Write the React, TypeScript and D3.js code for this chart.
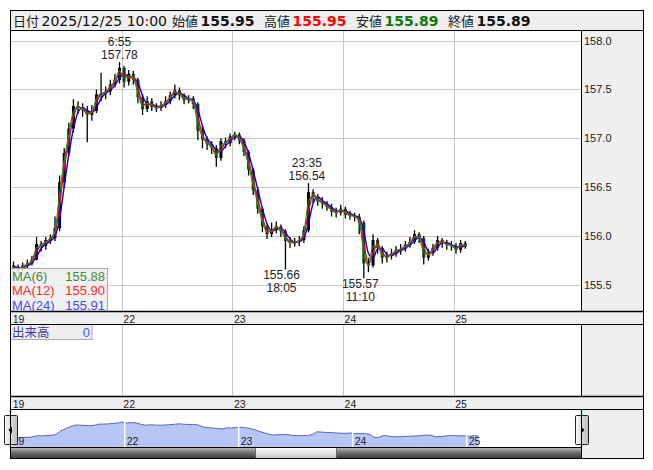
import React from 'react';
import * as d3 from 'd3';

// ---------- data (hourly bars, hour 0 = 19th 7:00) ----------
const firstOpen = 155.70;
const hourCloses = [
  155.68, 155.66, 155.70, 155.72, 155.76, 155.92, 155.90, 155.96, 155.98, 156.08,
  156.55, 156.85, 157.10, 157.33, 157.32, 157.29, 157.24, 157.28, 157.45, 157.46,
  157.48, 157.55, 157.60, 157.72, 157.58, 157.66, 157.60, 157.42, 157.30, 157.38,
  157.32, 157.31, 157.34, 157.38, 157.44, 157.49, 157.44, 157.39, 157.41, 157.35,
  157.08, 156.99, 156.94, 156.90, 156.80, 156.97, 156.95, 157.02, 157.04, 156.98,
  156.86, 156.68, 156.47, 156.28, 156.10, 156.02, 156.07, 156.10, 156.05, 155.95,
  155.93, 155.94, 155.96, 156.06, 156.45, 156.40, 156.36, 156.33, 156.30, 156.25,
  156.24, 156.28, 156.22, 156.21, 156.20, 156.14, 155.72, 155.70, 155.96, 155.88,
  155.78, 155.80, 155.82, 155.86, 155.87, 155.91, 155.94, 156.02, 155.98, 155.78,
  155.83, 155.88, 155.96, 155.93, 155.91, 155.90, 155.86, 155.93, 155.89,
];
const hourHighs = [
  155.74, 155.71, 155.73, 155.76, 155.80, 155.99, 155.95, 155.99, 156.02, 156.20,
  156.62, 156.90, 157.16, 157.40, 157.38, 157.36, 157.33, 157.34, 157.50, 157.67,
  157.53, 157.60, 157.66, 157.78, 157.74, 157.70, 157.69, 157.62, 157.45, 157.43,
  157.41, 157.36, 157.38, 157.43, 157.48, 157.55, 157.52, 157.46, 157.44, 157.43,
  157.37, 157.12, 157.02, 156.97, 156.93, 157.00, 157.01, 157.05, 157.07, 157.06,
  157.00, 156.88, 156.70, 156.50, 156.30, 156.12, 156.14, 156.15, 156.12, 156.07,
  155.99, 155.98, 156.00, 156.10, 156.54, 156.48, 156.43, 156.40, 156.36, 156.33,
  156.29, 156.32, 156.30, 156.26, 156.24, 156.23, 156.16, 155.78, 156.02, 155.98,
  155.90, 155.84, 155.87, 155.90, 155.92, 155.95, 155.99, 156.06, 156.04, 156.00,
  155.87, 155.92, 156.00, 155.98, 155.96, 155.95, 155.93, 155.96, 155.95,
];
const hourLows = [
  155.63, 155.62, 155.64, 155.67, 155.70, 155.75, 155.84, 155.86, 155.92, 155.95,
  156.05, 156.50, 156.82, 157.06, 157.25, 157.22, 156.96, 157.18, 157.26, 157.38,
  157.40, 157.44, 157.52, 157.56, 157.52, 157.54, 157.55, 157.36, 157.24, 157.27,
  157.28, 157.27, 157.28, 157.31, 157.35, 157.41, 157.39, 157.35, 157.36, 157.30,
  156.98, 156.90, 156.88, 156.84, 156.71, 156.77, 156.90, 156.92, 156.98, 156.94,
  156.82, 156.62, 156.42, 156.23, 156.04, 155.97, 155.99, 156.03, 155.99, 155.66,
  155.88, 155.89, 155.90, 155.93, 156.04, 156.34, 156.31, 156.28, 156.26, 156.20,
  156.19, 156.21, 156.18, 156.17, 156.15, 156.02, 155.57, 155.63, 155.68, 155.82,
  155.72, 155.73, 155.76, 155.79, 155.81, 155.84, 155.88, 155.92, 155.93, 155.71,
  155.75, 155.80, 155.85, 155.88, 155.86, 155.85, 155.82, 155.83, 155.87,
];
const dayLabels = ['19', '22', '23', '24', '25'];
const priceTicks = [158.0, 157.5, 157.0, 156.5, 156.0, 155.5];
const maNames = ['MA(6)', 'MA(12)', 'MA(24)'];
const maWindowHours = [0.5, 1, 2];
const maValues = ['155.88', '155.90', '155.91'];
const maColors = ['#3d8b3d', '#ff2b2b', '#4646ff'];
const lineColors = ['#1f8a1f', '#ff0000', '#0000ff'];
const extremes = [
  { hour: 23 + 55 / 60, price: 157.78, time: '6:55', above: true },
  { hour: 59 + 5 / 60, price: 155.66, time: '18:05', above: false },
  { hour: 64 + 35 / 60, price: 156.54, time: '23:35', above: true },
  { hour: 76 + 10 / 60, price: 155.57, time: '11:10', above: false },
];
const headerItems = [
  { label: '日付', value: '2025/12/25 10:00' },
  { label: '始値', value: '155.95' },
  { label: '高値', value: '155.95' },
  { label: '安値', value: '155.89' },
  { label: '終値', value: '155.89' },
];

// ---------- layout ----------
const L = 10.5, R = 581.5, RR = 643.5;
const TOP = 10.5, HEAD_B = 30.5, MAIN_B = 311.5, STRIP1_B = 324.5, VOL_B = 396.5, STRIP2_B = 409.5, NAV_B = 447.5, BOT = 458.5;
const JP = "'DejaVu Sans', 'Noto Sans CJK JP', sans-serif";
const NUM = "'Liberation Sans', Arial, sans-serif";

export default function App() {
  const n = hourCloses.length;
  const x = d3.scaleLinear().domain([0, 96]).range([11.2, 453.7]);
  const y = d3.scaleLinear().domain([155.5, 158.0]).range([285, 40.6]);
  const xn = d3.scaleLinear().domain([0, 96]).range([10.7, 466.7]);
  const yn = d3.scaleLinear().domain([154.38, 159.38]).range([447.5, 409.5]);

  const opens = hourCloses.map((c, i) => (i === 0 ? firstOpen : hourCloses[i - 1]));
  const pathAt = (t: number) => {
    const tt = Math.max(0, Math.min(n, t));
    const k = Math.floor(tt);
    const p0 = k === 0 ? firstOpen : hourCloses[k - 1];
    const p1 = k >= n ? hourCloses[n - 1] : hourCloses[k];
    return p0 + (p1 - p0) * (tt - k);
  };
  const maSeries = maWindowHours.map((w) =>
    hourCloses.map((_, i) => {
      const steps = 24;
      let s = 0;
      for (let j = 0; j <= steps; j++) s += pathAt(i + 1 - w + (w * j) / steps);
      return s / (steps + 1);
    })
  );
  const line = d3
    .line<number>()
    .x((_, i) => x(i + 0.5))
    .y((d) => y(d))
    .curve(d3.curveMonotoneX);

  const navArea = d3
    .area<number>()
    .x((_, i) => xn(i + 0.5))
    .y0(NAV_B)
    .y1((d) => yn(d));
  const navLine = d3
    .line<number>()
    .x((_, i) => xn(i + 0.5))
    .y((d) => yn(d));

  const dayStarts = dayLabels.map((_, k) => k * 24);
  const bw = 3;

  const headerX = [13, 172, 264, 356, 448];
  const valueColors = ['#111', '#111', '#ff0000', '#0a7a0a', '#111'];

  return (
    <svg
      width={653}
      height={470}
      style={{ position: 'absolute', left: 0, top: 0, background: '#fff' }}
    >
      <defs>
        <clipPath id="plotClip">
          <rect x={L} y={HEAD_B} width={R - L} height={MAIN_B - HEAD_B} />
        </clipPath>
        <linearGradient id="scrollG" x1="0" y1="0" x2="0" y2="1">
          <stop offset="0" stopColor="#bdbdbd" />
          <stop offset="0.5" stopColor="#6a6a6a" />
          <stop offset="1" stopColor="#3a3a3a" />
        </linearGradient>
        <linearGradient id="thumbG" x1="0" y1="0" x2="0" y2="1">
          <stop offset="0" stopColor="#ffffff" />
          <stop offset="1" stopColor="#c4c4c4" />
        </linearGradient>
        <linearGradient id="btnG" x1="0" y1="0" x2="1" y2="0">
          <stop offset="0" stopColor="#fafafa" />
          <stop offset="1" stopColor="#bcbcbc" />
        </linearGradient>
      </defs>

      {/* header */}
      <rect x={L} y={TOP} width={RR - L} height={HEAD_B - TOP} fill="#efefef" />
      {headerItems.map((h, i) => (
        <g key={h.label}>
          <text x={headerX[i]} y={25.5} fontFamily={JP} fontSize={13} fill="#222">
            {h.label}
          </text>
          <text
            x={headerX[i] + 28.5}
            y={25.5}
            fontFamily={JP}
            fontSize={14}
            fontWeight={i === 0 ? 'normal' : 'bold'}
            fill={valueColors[i]}
          >
            {h.value}
          </text>
        </g>
      ))}

      {/* main plot */}
      <rect x={L} y={HEAD_B} width={R - L} height={MAIN_B - HEAD_B} fill="#fff" />
      <rect x={R} y={HEAD_B} width={RR - R} height={MAIN_B - HEAD_B} fill="#efefef" />
      {priceTicks.map((p) => (
        <g key={p}>
          <line x1={L} x2={R} y1={Math.round(y(p)) + 0.5} y2={Math.round(y(p)) + 0.5} stroke="#c8c8c8" />
          <text x={R + 2.5} y={y(p) + 4} fontFamily={NUM} fontSize={11} fill="#222">
            {p.toFixed(1)}
          </text>
        </g>
      ))}
      {dayStarts.slice(1).map((h) => (
        <g key={h}>
          <line x1={Math.round(x(h)) + 0.5} x2={Math.round(x(h)) + 0.5} y1={HEAD_B} y2={MAIN_B} stroke="#c8c8c8" />
          <line x1={Math.round(x(h)) + 0.5} x2={Math.round(x(h)) + 0.5} y1={STRIP1_B} y2={VOL_B} stroke="#c8c8c8" />
        </g>
      ))}

      <g clipPath="url(#plotClip)">
        {hourCloses.map((c, i) => {
          const o = opens[i];
          const cx = x(i + 0.5);
          const top = y(Math.max(o, c));
          const bot = y(Math.min(o, c));
          return (
            <g key={i}>
              <line x1={cx} x2={cx} y1={y(hourHighs[i])} y2={y(hourLows[i])} stroke="#000" strokeWidth={1.3} />
              <rect x={cx - bw / 2} y={top} width={bw} height={Math.max(1.5, bot - top)} fill={c >= o ? '#000' : '#0b3d0b'} />
            </g>
          );
        })}
        {maSeries
          .map((s, k) => (
            <path key={k} d={line(s) || ''} fill="none" stroke={lineColors[k]} strokeWidth={k === 0 ? 1.2 : 1.4} />
          ))
          .reverse()}
      </g>

      {/* extremes annotations */}
      {extremes.map((e) => {
        const cx = x(e.hour) - 2;
        const py = y(e.price);
        const first = e.above ? e.time : e.price.toFixed(2);
        const second = e.above ? e.price.toFixed(2) : e.time;
        const y1 = e.above ? py - 16 : py + 10;
        const y2 = e.above ? py - 3 : py + 23;
        return (
          <g key={e.time} fontFamily={NUM} fontSize={12} fill="#222" textAnchor="middle">
            <text x={cx} y={y1}>{first}</text>
            <text x={cx} y={y2}>{second}</text>
          </g>
        );
      })}

      {/* MA legend */}
      <rect x={L} y={268.5} width={97} height={MAIN_B - 268.5} fill="#eeeeee" fillOpacity={0.85} stroke="#a8a8a8" />
      {maNames.map((m, k) => (
        <g key={m} fontFamily={NUM} fontSize={13} fill={maColors[k]}>
          <text x={12} y={280.5 + k * 14.5}>{m}</text>
          <text x={105} y={280.5 + k * 14.5} textAnchor="end">{maValues[k]}</text>
        </g>
      ))}

      {/* strip 1 */}
      <rect x={L} y={MAIN_B} width={RR - L} height={STRIP1_B - MAIN_B} fill="#efefef" />
      {dayStarts.map((h, k) => (
        <text key={k} x={x(h) + 1.5} y={322.5} fontFamily={NUM} fontSize={10.5} fill="#222">
          {dayLabels[k]}
        </text>
      ))}

      {/* volume */}
      <rect x={R} y={STRIP1_B} width={RR - R} height={VOL_B - STRIP1_B} fill="#efefef" />
      <rect x={L} y={STRIP1_B} width={81.5} height={15} fill="#eeeeee" stroke="#a8a8a8" />
      <text x={12} y={337} fontFamily={JP} fontSize={12.5} fill="#3a3aa8">出来高</text>
      <text x={90} y={337} fontFamily={NUM} fontSize={13} fill="#3a5cff" textAnchor="end">0</text>

      {/* strip 2 */}
      <rect x={L} y={VOL_B} width={RR - L} height={STRIP2_B - VOL_B} fill="#efefef" />
      {dayStarts.map((h, k) => (
        <text key={k} x={x(h) + 1.5} y={407.5} fontFamily={NUM} fontSize={10.5} fill="#222">
          {dayLabels[k]}
        </text>
      ))}

      {/* navigator */}
      <rect x={R} y={STRIP2_B} width={RR - R} height={BOT - STRIP2_B} fill="#efefef" />
      <path d={navArea(hourCloses) || ''} fill="#b8c6f6" />
      <path d={navLine(hourCloses) || ''} fill="none" stroke="#5a64b4" strokeWidth={1} />
      {dayStarts.slice(1).map((h) => (
        <line key={h} x1={xn(h)} x2={xn(h)} y1={STRIP2_B} y2={NAV_B} stroke="#fff" strokeWidth={1.5} />
      ))}
      {dayStarts.map((h, k) => (
        <text key={k} x={xn(h) + 2} y={444.5} fontFamily={NUM} fontSize={10.5} fill="#222">
          {dayLabels[k]}
        </text>
      ))}
      <line x1={L} x2={L} y1={STRIP2_B} y2={NAV_B} stroke="#2db4dc" strokeWidth={1.5} />
      <line x1={R} x2={R} y1={STRIP2_B} y2={NAV_B} stroke="#2db4dc" strokeWidth={1.5} />
      <rect x={L} y={NAV_B} width={R - L} height={BOT - NAV_B} fill="url(#scrollG)" />
      <rect x={255.5} y={NAV_B} width={81} height={BOT - NAV_B} fill="url(#thumbG)" stroke="#555" strokeWidth={0.8} />
      {/* nav buttons */}
      <rect x={4.5} y={415.5} width={13} height={29} rx={1} fill="url(#btnG)" stroke="#222" />
      <path d="M8.5,430 L12,426.5 L12,433.5 Z" fill="#000" />
      <rect x={575.5} y={415.5} width={13} height={29} rx={1} fill="url(#btnG)" stroke="#222" />
      <path d="M584.5,430 L581,426.5 L581,433.5 Z" fill="#000" />

      {/* borders */}
      <g stroke="#000" fill="none">
        <rect x={L} y={TOP} width={RR - L} height={BOT - TOP} />
        <line x1={L} x2={RR} y1={HEAD_B} y2={HEAD_B} />
        <line x1={L} x2={RR} y1={MAIN_B} y2={MAIN_B} strokeWidth={1.5} />
        <line x1={L} x2={RR} y1={STRIP1_B} y2={STRIP1_B} />
        <line x1={L} x2={RR} y1={VOL_B} y2={VOL_B} strokeWidth={1.5} />
        <line x1={L} x2={RR} y1={STRIP2_B} y2={STRIP2_B} />
        <line x1={L} x2={R} y1={NAV_B} y2={NAV_B} />
        <line x1={R} x2={R} y1={HEAD_B} y2={MAIN_B} />
        <line x1={R} x2={R} y1={STRIP1_B} y2={VOL_B} />
        <line x1={R} x2={R} y1={STRIP2_B} y2={BOT} />
      </g>
    </svg>
  );
}
